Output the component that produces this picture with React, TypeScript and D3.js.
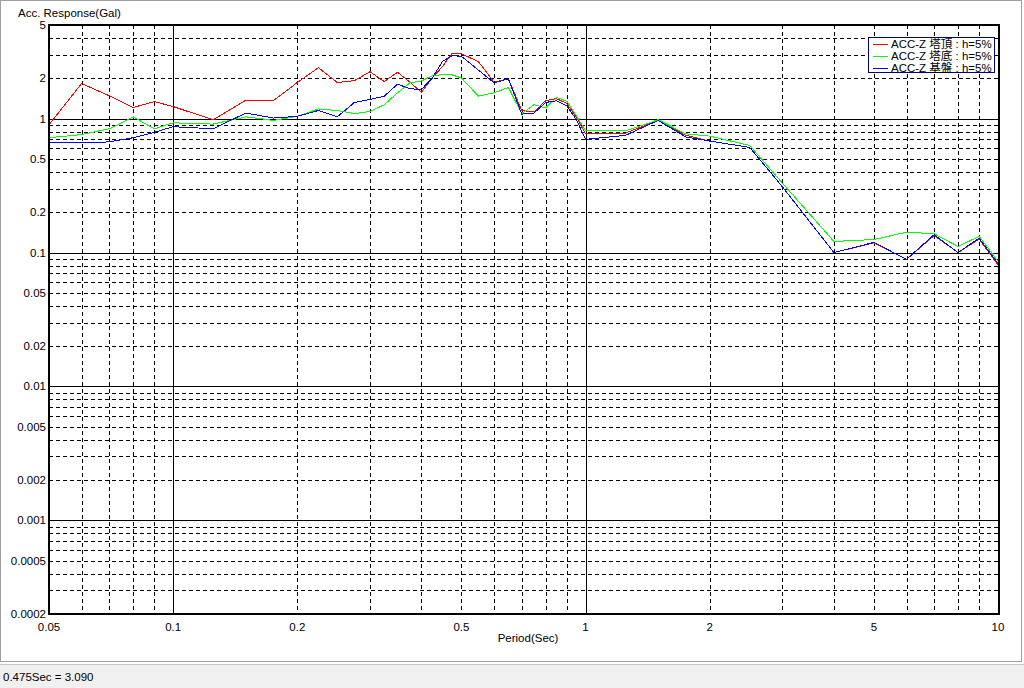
import * as d3 from "d3";

// Acceleration response spectra, h = 5%
const periods = [
  0.05, 0.06, 0.07, 0.08, 0.09, 0.1, 0.125, 0.15, 0.175, 0.2, 0.225, 0.25, 0.275, 0.3, 0.325, 0.35, 0.375, 0.4,
  0.425, 0.45, 0.475, 0.5, 0.55, 0.6, 0.65, 0.7, 0.75, 0.8, 0.85, 0.9, 0.95, 1.0, 1.25, 1.5, 1.75, 2.0, 2.5, 3.0,
  4.0, 5.0, 6.0, 7.0, 8.0, 9.0, 10.0,
];

const accTop = [
  0.9, 1.83, 1.48, 1.21, 1.34, 1.23, 0.98, 1.37, 1.36, 1.86, 2.4, 1.86, 1.92, 2.24, 1.89, 2.22, 1.87, 1.57, 2.02,
  2.45, 3.09, 3.05, 2.66, 1.87, 1.98, 1.15, 1.12, 1.36, 1.41, 1.3, 1.02, 0.77, 0.78, 0.97, 0.75, 0.68, 0.61, 0.31,
  0.1, 0.118, 0.089, 0.134, 0.1, 0.126, 0.081,
];

const accBase = [
  0.72, 0.76, 0.84, 1.03, 0.84, 0.93, 0.91, 1.03, 0.97, 1.04, 1.18, 1.15, 1.09, 1.13, 1.27, 1.56, 1.85, 1.91, 2.09,
  2.13, 2.12, 2.01, 1.47, 1.56, 1.71, 1.09, 1.27, 1.2, 1.44, 1.35, 1.05, 0.81, 0.81, 0.98, 0.77, 0.74, 0.63, 0.33,
  0.121, 0.125, 0.142, 0.138, 0.111, 0.132, 0.086,
];

const accRock = [
  0.66, 0.66, 0.67, 0.72, 0.79, 0.87, 0.84, 1.1, 1.01, 1.04, 1.15, 1.03, 1.32, 1.39, 1.47, 1.81, 1.67, 1.65, 2.01,
  2.68, 2.95, 2.92, 2.3, 1.85, 1.98, 1.08, 1.1, 1.32, 1.36, 1.25, 0.98, 0.7, 0.75, 0.97, 0.73, 0.68, 0.61, 0.31, 0.1,
  0.119, 0.089, 0.136, 0.1, 0.128, 0.083,
];

const seriesNames = ["ACC-Z 塔頂 : h=5%", "ACC-Z 塔底 : h=5%", "ACC-Z 基盤 : h=5%"];
const seriesColors = ["#ff0000", "#00ff00", "#0000ff"];

const xTickLabels = [0.05, 0.1, 0.2, 0.5, 1, 2, 5, 10];
const yTickLabels = [5, 2, 1, 0.5, 0.2, 0.1, 0.05, 0.02, 0.01, 0.005, 0.002, 0.001, 0.0005, 0.0002];
const decades = [0.0001, 0.001, 0.01, 0.1, 1];

const cursorIndex = 20;

const LEFT = 49;
const RIGHT = 999;
const TOP = 25;
const BOTTOM = 614;
const FONT = "'Liberation Sans', Arial, sans-serif";

type Pt = { t: number; v: number };

function gridValues(min: number, max: number) {
  const out: { v: number; major: boolean }[] = [];
  decades.forEach((d) => {
    d3.range(1, 10).forEach((m) => {
      const v = +(m * d).toPrecision(6);
      if (v > min * 1.0001 && v < max * 0.9999) out.push({ v, major: m === 1 });
    });
  });
  return out;
}

export default function App() {
  const x = d3.scaleLog().domain([0.05, 10]).range([LEFT, RIGHT - 1]);
  const y = d3.scaleLog().domain([0.0002, 5]).range([BOTTOM, TOP]);
  const line = d3
    .line<Pt>()
    .x((p) => x(p.t))
    .y((p) => y(p.v));

  const series = [accTop, accBase, accRock].map((vals) => periods.map((t, i) => ({ t, v: vals[i] })));
  const px = (v: number) => Math.round(v) + 0.5;

  return (
    <svg
      width={1024}
      height={688}
      style={{ position: "fixed", left: 0, top: 0, background: "#fff" }}
      fontFamily={FONT}
    >
      <rect x={0.5} y={0.5} width={1021} height={661} fill="#fff" stroke="#a0a0a0" />
      <rect x={0} y={664} width={1024} height={24} fill="#f0f0f0" />
      <line x1={0} x2={1024} y1={664.5} y2={664.5} stroke="#c8c8c8" />
      <text x={3} y={681} fontSize={11.5} fill="#000">
        {`${periods[cursorIndex]}Sec = ${accTop[cursorIndex].toFixed(3)}`}
      </text>

      <text x={18} y={17} fontSize={11.5} fill="#000">
        Acc. Response(Gal)
      </text>

      <g shapeRendering="crispEdges">
        {gridValues(0.05, 10).map((g) => (
          <line
            key={`gx${g.v}`}
            x1={px(x(g.v))}
            x2={px(x(g.v))}
            y1={TOP}
            y2={BOTTOM}
            stroke="#000"
            strokeDasharray={g.major ? undefined : "4,3"}
          />
        ))}
        {gridValues(0.0002, 5).map((g) => (
          <line
            key={`gy${g.v}`}
            x1={LEFT}
            x2={RIGHT}
            y1={px(y(g.v))}
            y2={px(y(g.v))}
            stroke="#000"
            strokeDasharray={g.major ? undefined : "4,3"}
          />
        ))}
      </g>

      <g fill="none" strokeWidth={1} shapeRendering="crispEdges">
        {series.map((s, i) => (
          <path key={i} d={line(s) ?? undefined} stroke={seriesColors[i]} />
        ))}
      </g>

      <rect
        x={LEFT}
        y={TOP}
        width={RIGHT - LEFT}
        height={BOTTOM - TOP}
        fill="none"
        stroke="#000"
        strokeWidth={2}
        shapeRendering="crispEdges"
      />

      {yTickLabels.map((v) => (
        <text key={`yl${v}`} x={46} y={y(v)} dy="0.35em" textAnchor="end" fontSize={11.5} fill="#000">
          {String(v)}
        </text>
      ))}
      {xTickLabels.map((v) => (
        <text key={`xl${v}`} x={x(v)} y={631} textAnchor="middle" fontSize={11.5} fill="#000">
          {String(v)}
        </text>
      ))}
      <text x={528} y={642} textAnchor="middle" fontSize={11.5} fill="#000">
        Period(Sec)
      </text>

      <g>
        <rect x={868.5} y={37.5} width={126} height={35} fill="#fff" stroke="#000080" shapeRendering="crispEdges" />
        {seriesNames.map((name, i) => (
          <g key={name} transform={`translate(0 ${44 + i * 12})`}>
            <line x1={873} x2={888} y1={0.5} y2={0.5} stroke={seriesColors[i]} shapeRendering="crispEdges" />
            <text x={891} y={0} dy="0.38em" fontSize={11.5} fill="#000" fontFamily={`${FONT}, 'Noto Sans CJK JP'`}>
              {name}
            </text>
          </g>
        ))}
      </g>
    </svg>
  );
}
